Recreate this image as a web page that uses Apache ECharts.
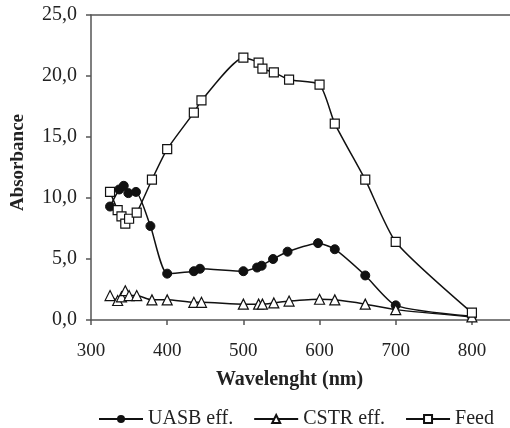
<!DOCTYPE html>
<html lang="en">
<head>
    <meta charset="utf-8">
    <title>Absorbance vs wavelength</title>
    <script src="https://cdn.jsdelivr.net/npm/echarts@6/dist/echarts.min.js"></script>
    <style>
        html, body { margin: 0; padding: 0; background: #fff; }
        #chart { width: 510px; height: 428px; }
    </style>
</head>
<body>
<div id="chart"></div>
<script type="text/javascript">
    // values
    var wavelengths = [325, 335, 340, 345, 350, 360, 380, 400, 435, 445, 500, 520, 525, 540, 560, 600, 620, 660, 700, 800];
    var uasbX = [325, 337, 343, 349, 359, 378, 400, 435, 443, 500, 518, 524, 539, 558, 598, 620, 660, 700, 800];
    var uasbEff = [9.3, 10.7, 11.0, 10.4, 10.5, 7.7, 3.8, 4.0, 4.2, 4.0, 4.3, 4.45, 5.0, 5.6, 6.3, 5.8, 3.65, 1.2, 0.3];
    var cstrEff = [2.0, 1.6, 1.9, 2.4, 2.0, 2.0, 1.65, 1.65, 1.45, 1.45, 1.3, 1.3, 1.3, 1.4, 1.55, 1.7, 1.65, 1.3, 0.85, 0.25];
    var feed = [10.5, 9.0, 8.5, 7.9, 8.3, 8.8, 11.5, 14.0, 17.0, 18.0, 21.5, 21.1, 20.6, 20.3, 19.7, 19.3, 16.1, 11.5, 6.4, 0.6];
    var seriesNames = ['UASB eff.', 'CSTR eff.', 'Feed'];

    function pairs(xs, ys) {
        var out = [];
        for (var i = 0; i < ys.length; i++) {
            out.push([xs[i], ys[i]]);
        }
        return out;
    }

    var serif = '"Liberation Serif", "DejaVu Serif", serif';
    var axisColor = '#555';
    var chart = echarts.init(document.getElementById('chart'));

    chart.setOption({
        animation: false,
        grid: { left: 91, right: 0, top: 15, bottom: 108 },
        legend: {
            data: seriesNames,
            top: 404,
            left: 93,
            itemWidth: 44,
            itemHeight: 10,
            itemGap: 20,
            textStyle: { fontFamily: serif, fontSize: 20, color: '#222' }
        },
        xAxis: [{
            type: 'value',
            min: 300,
            max: 850,
            interval: 100,
            name: 'Wavelenght (nm)',
            nameLocation: 'middle',
            nameGap: 50,
            nameTextStyle: { fontFamily: serif, fontSize: 20, fontWeight: 'bold', color: '#222', padding: [0, 22, 0, 0] },
            axisLine: { lineStyle: { color: axisColor, width: 1.5 } },
            axisTick: { length: 5, lineStyle: { color: axisColor, width: 1.5 } },
            axisLabel: { fontFamily: serif, fontSize: 19, color: '#222', margin: 22, showMaxLabel: false },
            splitLine: { show: false }
        }, {
            type: 'value',
            position: 'top',
            min: 300,
            max: 850,
            axisLine: { lineStyle: { color: axisColor, width: 1.5 } },
            axisTick: { show: false },
            axisLabel: { show: false },
            splitLine: { show: false }
        }],
        yAxis: {
            type: 'value',
            min: 0,
            max: 25,
            interval: 5,
            name: 'Absorbance',
            nameLocation: 'middle',
            nameGap: 63,
            nameTextStyle: { fontFamily: serif, fontSize: 19, fontWeight: 'bold', color: '#222', padding: [0, 0, 0, 10] },
            axisLine: { show: true, lineStyle: { color: axisColor, width: 1.5 } },
            axisTick: { show: true, length: 5, lineStyle: { color: axisColor, width: 1.5 } },
            axisLabel: {
                fontFamily: serif, fontSize: 20, color: '#222', margin: 14,
                formatter: function (v) { return v.toFixed(1).replace('.', ','); }
            },
            splitLine: { show: false }
        },
        series: [{
            name: seriesNames[0],
            type: 'line',
            data: pairs(uasbX, uasbEff),
            smooth: 0.2,
            symbol: 'circle',
            symbolSize: 9,
            lineStyle: { color: '#111', width: 1.5 },
            itemStyle: { color: '#111', borderColor: '#111' }
        }, {
            name: seriesNames[1],
            type: 'line',
            data: pairs(wavelengths, cstrEff),
            smooth: 0.2,
            symbol: 'triangle',
            symbolSize: 10,
            lineStyle: { color: '#111', width: 1.5 },
            itemStyle: { color: '#fff', borderColor: '#111', borderWidth: 1.2 }
        }, {
            name: seriesNames[2],
            type: 'line',
            data: pairs(wavelengths, feed),
            smooth: 0.2,
            symbol: 'rect',
            symbolSize: 9,
            lineStyle: { color: '#111', width: 1.5 },
            itemStyle: { color: '#fff', borderColor: '#111', borderWidth: 1.2 }
        }]
    });
</script>
</body>
</html>
